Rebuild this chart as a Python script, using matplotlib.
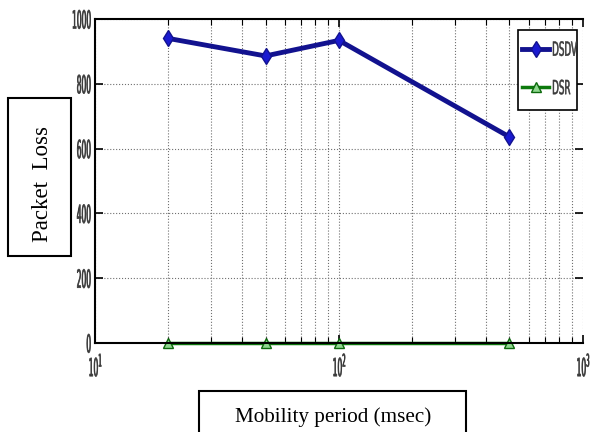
import matplotlib.pyplot as plt
from matplotlib.patches import Rectangle
from matplotlib.patheffects import AbstractPathEffect
from matplotlib.transforms import Affine2D
from matplotlib.ticker import LogLocator, NullFormatter, FixedLocator

# mobility period (msec) and packet loss per protocol
mobility = [20, 50, 100, 500]
dsdv_loss = [940, 886, 934, 636]
dsr_loss = [0, 0, 0, 0]


class Squeeze(AbstractPathEffect):
    """Draw text glyphs narrower, like the old condensed plot font."""

    def __init__(self, sx=0.35, anchor='center', stroke=0.5):
        super().__init__()
        self.sx = sx
        self.anchor = anchor
        self.stroke = stroke

    def draw_path(self, renderer, gc, tpath, affine, rgbFace=None):
        ext = tpath.get_extents()
        if self.anchor == 'right':
            cx = ext.x1
        elif self.anchor == 'left':
            cx = ext.x0
        else:
            cx = (ext.x0 + ext.x1) / 2
        squeeze = Affine2D().translate(-cx, 0).scale(self.sx, 1).translate(cx, 0)
        gc0 = renderer.new_gc()
        gc0.copy_properties(gc)
        if rgbFace is not None:
            gc0.set_foreground(rgbFace)
        gc0.set_linewidth(self.stroke)
        renderer.draw_path(gc0, tpath, squeeze + affine, rgbFace)
        gc0.restore()


box_font = ['Liberation Serif', 'DejaVu Serif']
tick_color = '#3a3a3a'

fig = plt.figure(figsize=(5.9, 4.32), dpi=100)
ax = fig.add_axes([0.161, 0.206, 0.827, 0.750])

ax.plot(mobility, dsdv_loss, color='#12128f', lw=3.5, marker='d', ms=8,
        mfc='#1a1ad0', mec='#12128f', label='DSDV', zorder=4)
ax.plot(mobility, dsr_loss, color='#0d7a0d', lw=2.5, marker='^', ms=7,
        mfc='#8fd88f', mec='#0d6a0d', label='DSR', zorder=2.4, clip_on=False)

ax.set_xscale('log')
ax.set_xlim(10, 1000)
ax.set_ylim(0, 1000)
ax.yaxis.set_major_locator(FixedLocator([0, 200, 400, 600, 800, 1000]))
ax.xaxis.set_major_locator(LogLocator(base=10))
ax.xaxis.set_minor_locator(LogLocator(base=10, subs=range(2, 10)))
ax.xaxis.set_minor_formatter(NullFormatter())

ax.grid(True, which='both', axis='x', ls=':', color='#707070', lw=0.8)
ax.grid(True, which='major', axis='y', ls=':', color='#707070', lw=0.8)

ax.tick_params(which='both', direction='in', top=True, right=True,
               labelsize=18, labelcolor=tick_color, color='black')
ax.tick_params(which='major', length=6, width=1.2)
ax.tick_params(which='minor', length=4, width=0.8)
ax.tick_params(axis='x', pad=8)
ax.tick_params(axis='y', pad=2)
for lbl in ax.get_xticklabels():
    lbl.set_path_effects([Squeeze(0.3, 'center')])
for lbl in ax.get_yticklabels():
    lbl.set_path_effects([Squeeze(0.3, 'right')])

for side in ['left', 'bottom', 'top']:
    ax.spines[side].set_linewidth(1.5)
ax.spines['right'].set_visible(False)

# legend frame drawn separately so it hugs the narrow labels
leg = ax.legend(loc='upper left', bbox_to_anchor=(0.867, 0.945),
                fontsize=14, frameon=False, handlelength=1.4,
                handletextpad=0.1, borderpad=0.2, labelspacing=1.0,
                borderaxespad=0)
for t in leg.get_texts():
    t.set_color(tick_color)
    t.set_path_effects([Squeeze(0.45, 'left', 0.4)])
ax.add_patch(Rectangle((0.867, 0.719), 0.121, 0.247, transform=ax.transAxes,
                       fill=True, facecolor='white', edgecolor='black',
                       lw=1.2, zorder=4.5, clip_on=False))
leg.set_zorder(5)

# boxed axis titles
fig.patches.append(Rectangle((0.0136, 0.407), 0.107, 0.366, transform=fig.transFigure,
                             fill=False, edgecolor='black', lw=1.5))
fig.text(0.072, 0.574, 'Packet  Loss', rotation=90, ha='center', va='center',
         family=box_font, fontsize=16.5)

fig.patches.append(Rectangle((0.337, -0.05), 0.453, 0.145, transform=fig.transFigure,
                             fill=False, edgecolor='black', lw=1.5))
fig.text(0.564, 0.035, 'Mobility period (msec)', ha='center', va='center',
         family=box_font, fontsize=15.2)

fig.savefig('out.png', dpi=100)
